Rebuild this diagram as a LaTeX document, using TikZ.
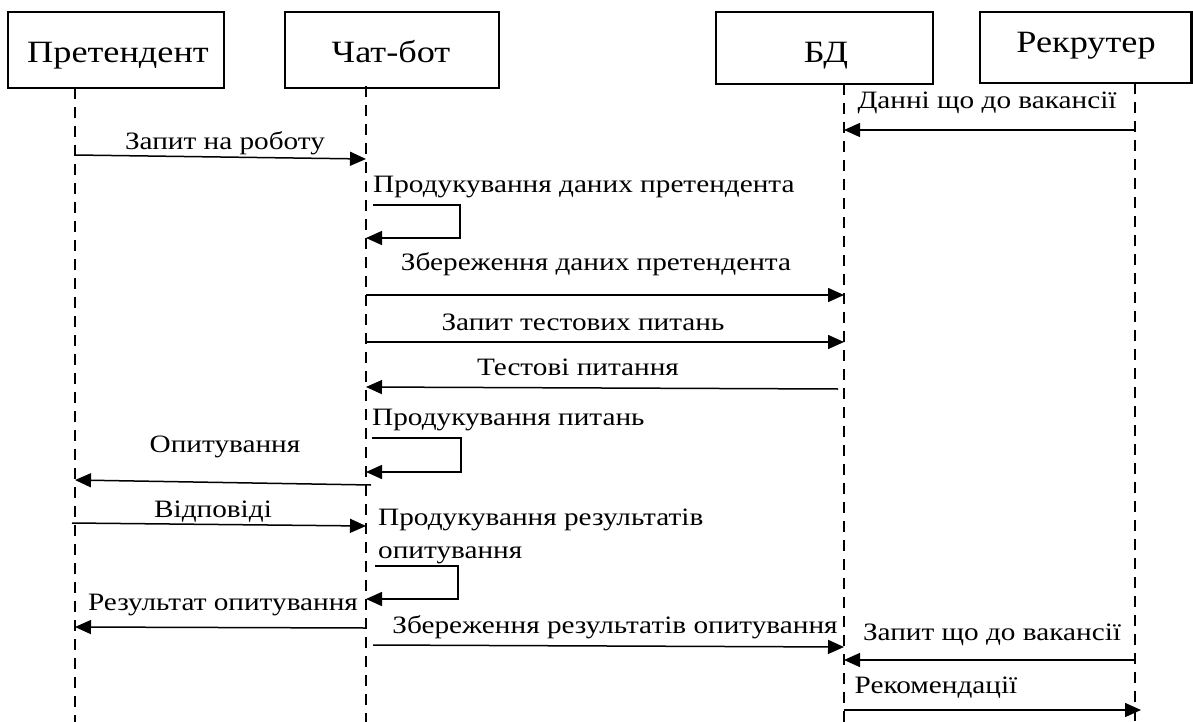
\documentclass[tikz,border=0pt]{standalone}
\usepackage{fontspec}
\setmainfont{Liberation Serif}[FakeStretch=1.17]
\usetikzlibrary{arrows.meta}
\begin{document}
\begin{tikzpicture}[x=1pt,y=-1pt,
  actor/.style={draw, line width=2.4pt, inner sep=0pt, outer sep=0pt},
  life/.style={line width=2.4pt, dash pattern=on 11pt off 8pt},
  msg/.style={line width=1.5pt, -{Triangle[length=16pt,width=14pt]}},
  lbl/.style={anchor=base, font=\fontsize{25}{29}\selectfont, inner sep=0pt},
  lblw/.style={lbl, anchor=base west},
  hdr/.style={anchor=base, font=\fontsize{31}{35}\selectfont, inner sep=0pt}]

\useasboundingbox (0,0) rectangle (1193,722);

% actor boxes
\node[actor, minimum width=216pt, minimum height=76pt] (boxP) at (116,50) {};
\node[actor, minimum width=214pt, minimum height=76pt] (boxC) at (392,50) {};
\node[actor, minimum width=217pt, minimum height=72pt] (boxD) at (824.5,48) {};
\node[actor, minimum width=211.5pt, minimum height=71pt] (boxR) at (1085.75,47.5) {};

\node[hdr] (hP) at (118,63) {Претендент};
\node[hdr] (hC) at (391,63) {Чат-бот};
\node[hdr] (hD) at (826,63) {БД};
\node[hdr] (hR) at (1086,53) {Рекрутер};

% lifelines
\coordinate (tP) at (75,88);   \coordinate (bP) at (75,722);
\coordinate (tC) at (366,86);  \coordinate (bC) at (366,722);
\coordinate (tD) at (844,84);  \coordinate (bD) at (844,722);
\coordinate (tR) at (1135,83); \coordinate (bR) at (1135,722);
\draw[life] (tP) -- (bP);
\draw[life] (tC) -- (bC);
\draw[life] (tD) -- (bD);
\draw[life] (tR) -- (bR);

% messages
\node[lbl] (m1) at (987,109) {Данні що до вакансії};
\draw[msg] (tR |- 0,130) -- (tD |- 0,130);

\node[lbl] (m2) at (225,150) {Запит на роботу};
\draw[msg] (tP |- 0,155) -- (tC |- 0,159);

\node[lblw] (m3) at (373,193) {Продукування даних претендента};
\draw[msg] ([xshift=7pt]tC |- 0,205) -- ++(87,0) |- (tC |- 0,238);

\node[lbl] (m4) at (596,270) {Збереження даних претендента};
\draw[msg] (tC |- 0,295) -- (tD |- 0,295);

\node[lbl] (m5) at (583,330) {Запит тестових питань};
\draw[msg] (tC |- 0,342) -- (tD |- 0,342);

\node[lbl] (m6) at (578,375) {Тестові питання};
\draw[msg] ([xshift=-6pt]tD |- 0,389) -- (tC |- 0,387);

\node[lblw] (m7) at (372,425) {Продукування питань};
\draw[msg] ([xshift=6pt]tC |- 0,438) -- ++(89,0) |- (tC |- 0,472);

\node[lbl] (m8) at (225,452) {Опитування};
\draw[msg] ([xshift=5pt]tC |- 0,485) -- (tP |- 0,480);

\node[lbl] (m9) at (213,517) {Відповіді};
\draw[msg] ([xshift=-3pt]tP |- 0,523) -- (tC |- 0,526);

\node[lblw] (m10) at (378,525) {Продукування результатів};
\node[lblw] (m10b) at (378,558) {опитування};
\draw[msg] ([xshift=9pt]tC |- 0,566) -- ++(83,0) |- (tC |- 0,599);

\node[lbl] (m11) at (223,610) {Результат опитування};
\draw[msg] ([xshift=-1pt]tC |- 0,628) -- (tP |- 0,627);

\node[lbl] (m12) at (615,633) {Збереження результатів опитування};
\draw[msg] ([xshift=7pt]tC |- 0,645) -- (tD |- 0,647);

\node[lbl] (m13) at (992,640) {Запит що до вакансії};
\draw[msg] (tR |- 0,660) -- (tD |- 0,660);

\node[lbl] (m14) at (936,693) {Рекомендації};
\draw[msg] (tD |- 0,710) -- ([xshift=6pt]tR |- 0,710);

\end{tikzpicture}
\end{document}
